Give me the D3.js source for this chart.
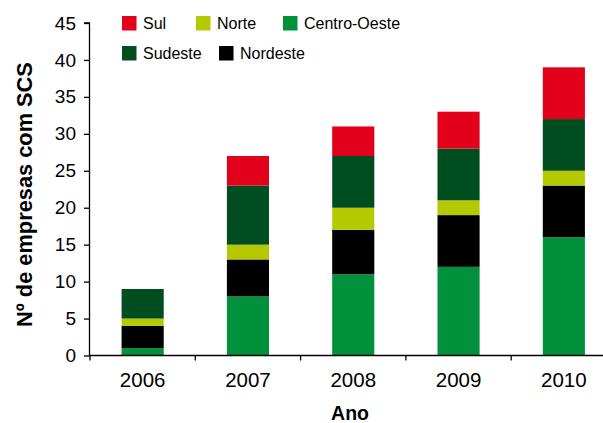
<!DOCTYPE html>
<html>
<head>
<meta charset="utf-8">
<script src="https://cdn.jsdelivr.net/npm/d3@7"></script>
<style>
  body { margin: 0; background: #fff; }
  svg { display: block; font-family: "Liberation Sans", Arial, sans-serif; }
</style>
</head>
<body>
<div id="chart"></div>
<script>
(() => {
  const years = ['2006', '2007', '2008', '2009', '2010'];
  const centroOeste = [1, 8, 11, 12, 16];
  const nordeste = [3, 5, 6, 7, 7];
  const norte = [1, 2, 3, 2, 2];
  const sudeste = [4, 8, 7, 7, 7];
  const sul = [0, 4, 4, 5, 7];
  const yTicks = [0, 5, 10, 15, 20, 25, 30, 35, 40, 45];

  // stacking order bottom -> top
  const series = [
    { key: 'Centro-Oeste', values: centroOeste, color: '#00913a' },
    { key: 'Nordeste', values: nordeste, color: '#000000' },
    { key: 'Norte', values: norte, color: '#b5c900' },
    { key: 'Sudeste', values: sudeste, color: '#004e20' },
    { key: 'Sul', values: sul, color: '#e2001a' }
  ];
  const colorOf = k => series.find(s => s.key === k).color;

  const width = 603, height = 423;
  const svg = d3.select('#chart').append('svg')
    .attr('width', width).attr('height', height);

  const x = d3.scaleBand().domain(years).range([90, 616.5])
    .paddingInner(0.6).paddingOuter(0.3);
  const y = d3.scaleLinear().domain([0, 45]).range([355.5, 23]);

  const rows = years.map((yr, i) => {
    const r = { year: yr };
    series.forEach(s => { r[s.key] = s.values[i]; });
    return r;
  });
  const stacked = d3.stack().keys(series.map(s => s.key))(rows);

  svg.append('g').selectAll('g')
    .data(stacked)
    .join('g')
    .attr('fill', d => colorOf(d.key))
    .selectAll('rect')
    .data(d => d.filter(p => p[1] > p[0]))
    .join('rect')
    .attr('x', d => x(d.data.year))
    .attr('width', x.bandwidth())
    .attr('y', d => y(d[1]))
    .attr('height', d => y(d[0]) - y(d[1]));

  // y axis
  const yAxis = svg.append('g')
    .attr('transform', 'translate(89.5,0)')
    .call(d3.axisLeft(y).tickValues(yTicks).tickSize(5.5).tickPadding(8));
  yAxis.selectAll('text').attr('font-size', 19).attr('fill', '#000')
    .attr('font-family', '"Liberation Sans", Arial, sans-serif');
  yAxis.selectAll('line, path').attr('stroke', '#000').attr('stroke-width', 1.3);
  yAxis.select('.domain').attr('d', `M-5.5,${y(45)}H0V${y(0)}`);

  // x axis: ticks at category boundaries
  const xAxisG = svg.append('g').attr('transform', `translate(0,${y(0)})`);
  xAxisG.append('line')
    .attr('x1', 89).attr('x2', width)
    .attr('stroke', '#000').attr('stroke-width', 1.3);
  const step = x.step();
  xAxisG.selectAll('line.tick')
    .data(years)
    .join('line')
    .attr('class', 'tick')
    .attr('x1', d => x(d) - step * 0.3).attr('x2', d => x(d) - step * 0.3)
    .attr('y1', 0).attr('y2', 5)
    .attr('stroke', '#000').attr('stroke-width', 1.3);
  xAxisG.selectAll('text')
    .data(years)
    .join('text')
    .attr('x', d => x(d) + x.bandwidth() / 2)
    .attr('y', 31)
    .attr('text-anchor', 'middle')
    .attr('font-size', 20.5)
    .text(d => d);

  // axis titles
  svg.append('text')
    .attr('x', 350).attr('y', 419.5)
    .attr('text-anchor', 'middle')
    .attr('font-weight', 'bold').attr('font-size', 19.5)
    .text('Ano');
  svg.append('text')
    .attr('transform', 'translate(31.5,194.5) rotate(-90)')
    .attr('text-anchor', 'middle')
    .attr('font-weight', 'bold').attr('font-size', 21.8)
    .text('Nº de empresas com SCS');

  // legend
  const legendItems = [
    { key: 'Sul', x: 122, y: 16 },
    { key: 'Norte', x: 196, y: 16 },
    { key: 'Centro-Oeste', x: 283, y: 16 },
    { key: 'Sudeste', x: 122, y: 46 },
    { key: 'Nordeste', x: 219, y: 46 }
  ];
  const lg = svg.append('g').selectAll('g')
    .data(legendItems)
    .join('g')
    .attr('transform', d => `translate(${d.x},${d.y})`);
  lg.append('rect')
    .attr('width', 14.5).attr('height', 14.5)
    .attr('fill', d => colorOf(d.key));
  lg.append('text')
    .attr('x', 21).attr('y', 13)
    .attr('font-size', 16)
    .text(d => d.key);
})();
</script>
</body>
</html>
